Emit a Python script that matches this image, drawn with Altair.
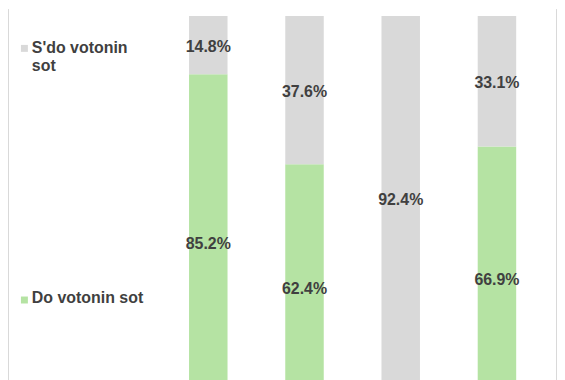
import altair as alt
import pandas as pd

categories = ["1", "2", "3", "4"]
do_values = [85.2, 62.4, 7.6, 66.9]
sdo_values = [14.8, 37.6, 92.4, 33.1]
series = ["Do votonin sot", "S'do votonin sot"]
colors = ["#b5e3a3", "#d9d9d9"]
legend_top_lines = ["S'do votonin", "sot"]

rows = []
for c, d, s in zip(categories, do_values, sdo_values):
    rows.append({"cat": c, "series": series[0], "value": d, "y0": 0.0, "y1": d})
    rows.append({"cat": c, "series": series[1], "value": s, "y0": d, "y1": d + s})
df = pd.DataFrame(rows)
df["mid"] = (df["y0"] + df["y1"]) / 2
df["label"] = df["value"].map(lambda v: f"{v:.1f}%")

W, H = 552, 404
FONT = "Liberation Sans"
TXT = "#404040"

xs = alt.Scale(domain=categories, range=[153, 540], paddingInner=0.6, paddingOuter=0.3)
ys = alt.Scale(domain=[0, 100], range=[403, 7])
cs = alt.Scale(domain=series, range=colors)

base = alt.Chart(df)
bars = base.mark_bar().encode(
    x=alt.X("cat:N", scale=xs, axis=None),
    y=alt.Y("y0:Q", scale=ys, axis=None),
    y2="y1:Q",
    color=alt.Color("series:N", scale=cs, legend=None),
)
labels = base.mark_text(font=FONT, fontSize=16, fontWeight="bold", color=TXT, dy=2).encode(
    x=alt.X("cat:N", scale=xs, axis=None),
    y=alt.Y("mid:Q", scale=ys, axis=None),
    text="label:N",
)

one = pd.DataFrame({"k": [0]})
sq1 = alt.Chart(one).mark_square(size=49, color=colors[1], opacity=1).encode(
    x=alt.value(16.5), y=alt.value(39.5))
tx1 = alt.Chart(one).mark_text(text=legend_top_lines, align="left", baseline="middle",
                               lineHeight=18, font=FONT, fontSize=16, fontWeight="bold",
                               color=TXT).encode(x=alt.value(24), y=alt.value(39))
sq2 = alt.Chart(one).mark_square(size=49, color=colors[0], opacity=1).encode(
    x=alt.value(16.5), y=alt.value(292.5))
tx2 = alt.Chart(one).mark_text(text=series[0], align="left", baseline="middle",
                               font=FONT, fontSize=16, fontWeight="bold",
                               color=TXT).encode(x=alt.value(24), y=alt.value(291))
ruleL = alt.Chart(one).mark_rule(color="#d9d9d9").encode(
    x=alt.value(0.5), y=alt.value(0), y2=alt.value(H))
ruleR = alt.Chart(one).mark_rule(color="#d9d9d9").encode(
    x=alt.value(551.5), y=alt.value(0), y2=alt.value(H))

chart = alt.layer(ruleL, ruleR, bars, labels, sq1, tx1, sq2, tx2).properties(
    width=W, height=H, padding=0, autosize=alt.AutoSizeParams(type="none")
).configure_view(stroke=None)

chart.save("out.html", embed_options={"renderer": "svg", "actions": False})
